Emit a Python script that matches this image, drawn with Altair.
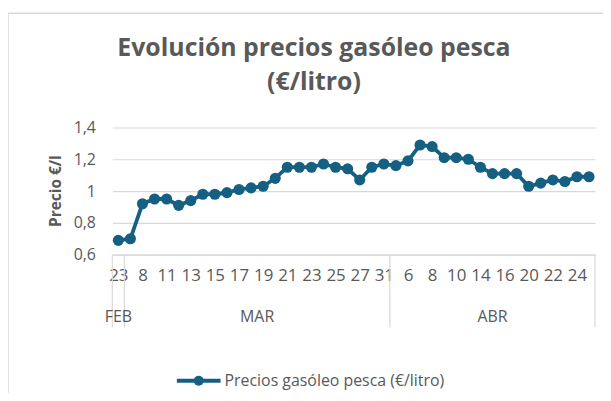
import json
import altair as alt
import pandas as pd

FONT = "Open Sans"
TXT = "#595959"
GRID = "#D9D9D9"
BLUE = "#156082"

title_lines = ["Evolución precios gasóleo pesca", "(€/litro)"]
y_title = "Precio €/l"
series_name = "Precios gasóleo pesca (€/litro)"

days = ["23",
        "7", "8", "10", "11", "12", "13", "14", "15", "16", "17", "18", "19", "20",
        "21", "22", "23", "24", "25", "26", "27", "30", "31",
        "5", "6", "7", "8", "9", "10", "12", "14", "15", "16", "18", "20", "21",
        "22", "23", "24", "25"]
months = ["FEB"] * 1 + ["MAR"] * 22 + ["ABR"] * 17
prices = [0.69, 0.70, 0.92, 0.95, 0.95, 0.91, 0.94, 0.98, 0.98, 0.99,
          1.01, 1.02, 1.03, 1.08, 1.15, 1.15, 1.15, 1.17, 1.15, 1.14,
          1.07, 1.15, 1.17, 1.16, 1.19, 1.29, 1.28, 1.21, 1.21, 1.20,
          1.15, 1.11, 1.11, 1.11, 1.03, 1.05, 1.07, 1.06, 1.09, 1.09]
month_names = ["FEB", "MAR", "ABR"]
month_centers = [0, 11.5, 31]
group_bounds = [-0.5, 0.5, 22.5, 39.5]
y_ticks = [0.6, 0.8, 1.0, 1.2, 1.4]

n = len(prices)
df = pd.DataFrame({"idx": list(range(n)), "dia": days, "mes": months, "precio": prices})
mdf = pd.DataFrame({"mes": month_names, "c": month_centers})
bdf = pd.DataFrame({"b": group_bounds})

xscale = alt.Scale(domain=[-0.5, n - 0.5], nice=False, zero=False)
yscale = alt.Scale(domain=[0.6, 1.4], nice=False, zero=False)

x_axis = alt.Axis(values=list(range(0, n, 2)), tickCount=100,
                  labelExpr=json.dumps(days) + "[datum.value]",
                  grid=False, ticks=False, tickSize=0,
                  domainColor=GRID, domainWidth=1.2,
                  labelFont=FONT, labelFontSize=17, labelColor=TXT,
                  labelPadding=13, labelOverlap=False, labelFlush=False,
                  labelBound=False, title=None)
y_axis = alt.Axis(values=y_ticks, tickCount=20,
                  labelExpr="replace(format(datum.value, '~g'), '.', ',')",
                  grid=True, gridColor=GRID, gridWidth=1.2,
                  domain=False, ticks=False, tickSize=0,
                  labelFont=FONT, labelFontSize=16, labelColor=TXT,
                  labelPadding=17, labelOverlap=False, title=None)

base = alt.Chart(df)
line = base.mark_line(color=BLUE, strokeWidth=3.8).encode(
    x=alt.X("idx:Q", scale=xscale, axis=x_axis),
    y=alt.Y("precio:Q", scale=yscale, axis=y_axis),
)
pts = base.mark_point(filled=True, color=BLUE, size=125, opacity=1).encode(
    x=alt.X("idx:Q", scale=xscale),
    y=alt.Y("precio:Q", scale=yscale),
)

seps = alt.Chart(bdf).mark_rule(color=GRID, strokeWidth=1.2).encode(
    x=alt.X("b:Q", scale=xscale),
    y=alt.value(128), y2=alt.value(201),
)
mlabels = alt.Chart(mdf).mark_text(font=FONT, fontSize=16, color=TXT,
                                   baseline="alphabetic").encode(
    x=alt.X("c:Q", scale=xscale),
    y=alt.value(196),
    text="mes:N",
)

tdf = pd.DataFrame({"t": title_lines, "yy": [-72, -38]})
title = alt.Chart(tdf).mark_text(font=FONT, fontSize=25, fontWeight="bold",
                                 color=TXT, baseline="alphabetic").encode(
    x=alt.value(203), y=alt.Y("yy:Q", scale=None), text="t:N",
)
ytit = alt.Chart(pd.DataFrame({"t": [y_title]})).mark_text(
    font=FONT, fontSize=15.5, fontWeight="bold", color=TXT, angle=270,
    baseline="middle", align="center").encode(
    x=alt.value(-57), y=alt.value(64), text="t:N")

ldf = pd.DataFrame({"t": [series_name]})
leg_line = alt.Chart(ldf).mark_rule(color=BLUE, strokeWidth=4).encode(
    x=alt.value(65), x2=alt.value(109), y=alt.value(255))
leg_pt = alt.Chart(ldf).mark_point(filled=True, color=BLUE, size=100, opacity=1).encode(
    x=alt.value(87), y=alt.value(255))
leg_txt = alt.Chart(ldf).mark_text(font=FONT, fontSize=16, color=TXT, align="left",
                                   baseline="middle").encode(
    x=alt.value(113), y=alt.value(255), text="t:N")

border_l = alt.Chart(ldf).mark_rule(color=GRID, strokeWidth=1.5).encode(
    x=alt.value(-105), y=alt.value(-115), y2=alt.value(300))
border_t = alt.Chart(ldf).mark_rule(color=GRID, strokeWidth=1.5).encode(
    x=alt.value(-105), x2=alt.value(500), y=alt.value(-115))

chart = alt.layer(border_l, border_t, title, ytit, seps, line, pts, mlabels,
                  leg_line, leg_pt, leg_txt).properties(
    width=486, height=128,
    autosize=alt.AutoSizeParams(type="none"),
    padding={"left": 105, "top": 119, "right": 8, "bottom": 138},
).configure_view(stroke=None)

chart.save("out.html", embed_options={"renderer": "svg", "actions": False})
